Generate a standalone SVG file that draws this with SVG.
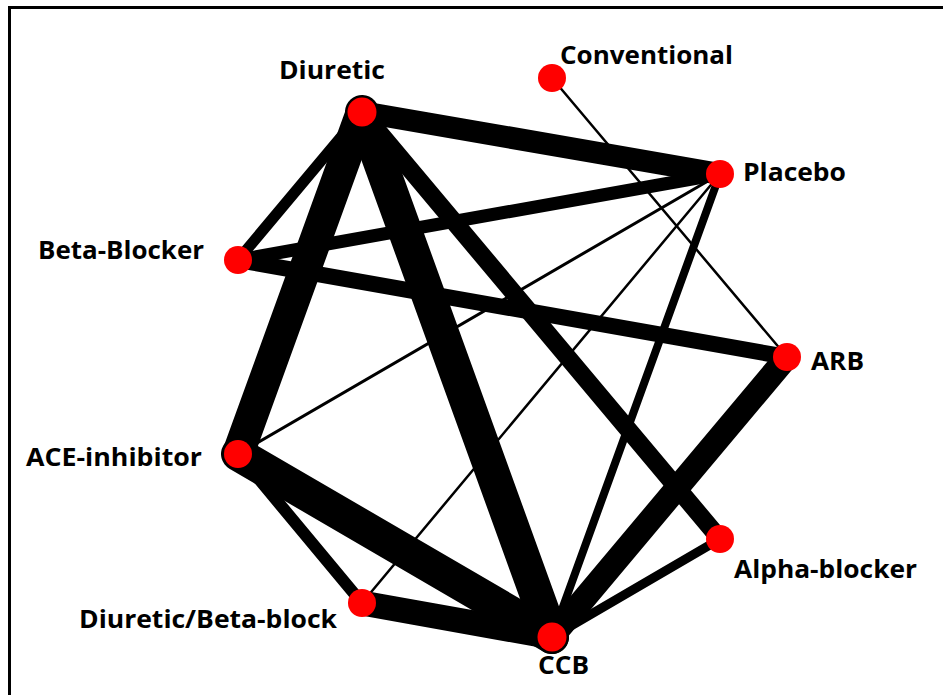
<svg xmlns="http://www.w3.org/2000/svg" width="943" height="695" viewBox="0 0 943 695">
<style>
.e{stroke:#000;stroke-linecap:round;fill:none}
.n{fill:#ff0000}
.t{font-family:"Open Sans","Noto Sans","Liberation Sans",sans-serif;font-weight:bold;font-size:25.5px;fill:#000}
</style>
<rect x="0" y="0" width="943" height="695" fill="#fff"/>
<path d="M9.5,700 V7.5 H950" fill="none" stroke="#000" stroke-width="3"/>
<g id="connectors">
<line class="e" x1="362" y1="112" x2="720" y2="174" stroke-width="22"/>
<line class="e" x1="362" y1="112" x2="238" y2="260" stroke-width="11"/>
<line class="e" x1="362" y1="112" x2="238" y2="454" stroke-width="32"/>
<line class="e" x1="362" y1="112" x2="552" y2="637" stroke-width="34"/>
<line class="e" x1="362" y1="112" x2="720" y2="539" stroke-width="18"/>
<line class="e" x1="720" y1="174" x2="238" y2="260" stroke-width="13"/>
<line class="e" x1="720" y1="174" x2="238" y2="454" stroke-width="3"/>
<line class="e" x1="720" y1="174" x2="362" y2="603" stroke-width="2.5"/>
<line class="e" x1="720" y1="174" x2="552" y2="637" stroke-width="8"/>
<line class="e" x1="552" y1="78" x2="787" y2="357" stroke-width="2.5"/>
<line class="e" x1="238" y1="260" x2="787" y2="357" stroke-width="16"/>
<line class="e" x1="787" y1="357" x2="552" y2="637" stroke-width="24"/>
<line class="e" x1="238" y1="454" x2="552" y2="637" stroke-width="34"/>
<line class="e" x1="238" y1="454" x2="362" y2="603" stroke-width="12"/>
<line class="e" x1="362" y1="603" x2="552" y2="637" stroke-width="25"/>
<line class="e" x1="720" y1="539" x2="552" y2="637" stroke-width="9"/>
</g>
<g id="diuretic"><circle class="n" cx="362" cy="112" r="14.5"/><text class="t" x="279" y="79" textLength="106" lengthAdjust="spacingAndGlyphs">Diuretic</text></g>
<g id="conventional"><circle class="n" cx="552" cy="78" r="14"/><text class="t" x="560" y="64" textLength="173" lengthAdjust="spacingAndGlyphs">Conventional</text></g>
<g id="placebo"><circle class="n" cx="720" cy="174" r="14"/><text class="t" x="743" y="181" textLength="103" lengthAdjust="spacingAndGlyphs">Placebo</text></g>
<g id="beta-blocker"><circle class="n" cx="238" cy="260" r="14"/><text class="t" x="38" y="259" textLength="166" lengthAdjust="spacingAndGlyphs">Beta-Blocker</text></g>
<g id="arb"><circle class="n" cx="787" cy="357" r="14"/><text class="t" x="811" y="370" textLength="53" lengthAdjust="spacingAndGlyphs">ARB</text></g>
<g id="ace-inhibitor"><circle class="n" cx="238" cy="454" r="14"/><text class="t" x="26" y="466" textLength="176" lengthAdjust="spacingAndGlyphs">ACE-inhibitor</text></g>
<g id="alpha-blocker"><circle class="n" cx="720" cy="539" r="14"/><text class="t" x="734" y="578" textLength="183" lengthAdjust="spacingAndGlyphs">Alpha-blocker</text></g>
<g id="diuretic-beta-block"><circle class="n" cx="362" cy="603" r="14"/><text class="t" x="79" y="628" textLength="258" lengthAdjust="spacingAndGlyphs">Diuretic/Beta-block</text></g>
<g id="ccb"><circle class="n" cx="552" cy="637" r="14.5"/><text class="t" x="538" y="674" textLength="51" lengthAdjust="spacingAndGlyphs">CCB</text></g>
</svg>
